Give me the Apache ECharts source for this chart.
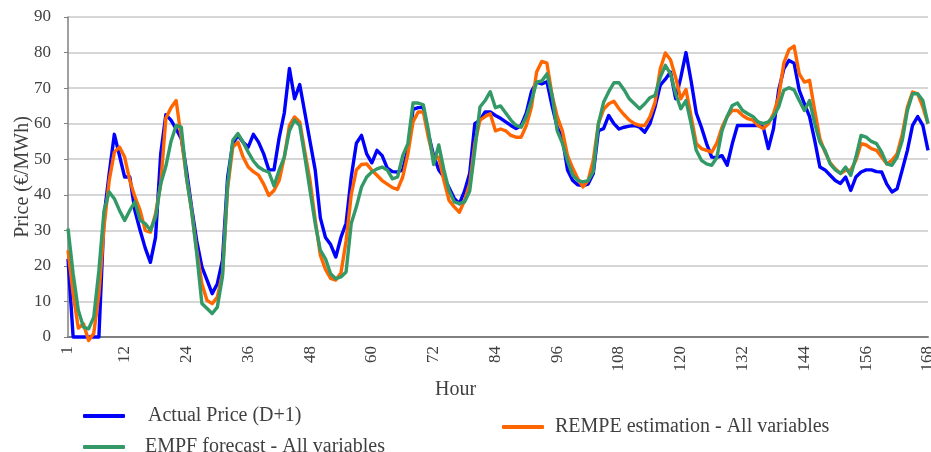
<!DOCTYPE html>
<html>
<head>
<meta charset="utf-8">
<title>Price forecast</title>
<script src="https://cdn.jsdelivr.net/npm/echarts@6.0.0/dist/echarts.min.js"></script>
<style>
  html, body { margin: 0; padding: 0; background: #fff; }
  #chart { width: 931px; height: 452px; }
</style>
</head>
<body>
<div id="chart"></div>
<script>
// hours 1..168 on the category axis
const hours = Array.from({ length: 168 }, (_, i) => String(i + 1))
// labels that are shown under the axis
const xTickLabels = ['1', '12', '24', '36', '48', '60', '72', '84', '96', '108', '120', '132', '144', '156', '168']

// Actual Price (D+1)
const actualPrice = [
  22, 0, 0, 0, 0, 0, 0, 34, 46, 57, 51, 45,
  45, 35.5, 30, 25, 21, 28, 51.5, 62.5, 61, 58.5, 55.8, 47,
  36.5, 27, 19.7, 16, 12.2, 15, 21.6, 45, 54.4, 56.7, 54.8, 53.4,
  57, 54.8, 51.5, 47, 47, 56, 63, 75.5, 67, 71, 63, 55,
  47, 33.5, 28, 26, 22.5, 28, 32, 45, 54.5, 56.7, 51.5, 49,
  52.5, 51, 47.5, 46.5, 46.4, 47, 53, 64, 64.5, 64.5, 57, 51,
  47, 45, 42, 39, 37.5, 41, 46, 60, 61, 63.3, 63.3, 62.3,
  61.5, 60.5, 59.5, 58.6, 59.5, 63, 69, 71.7, 71.2, 71.8, 65, 59,
  56, 47, 44, 42.8, 42.6, 43, 46, 58, 58.6, 62.3, 60, 58.5,
  59, 59.3, 59.5, 59, 57.6, 60, 64.7, 70.8, 72.5, 74.5, 67, 73,
  80, 72, 63, 59, 54.4, 50.6, 50.5, 51, 48.3, 54.4, 59.5, 59.5,
  59.5, 59.5, 59.5, 59, 53, 58.6, 69.4, 75.4, 77.8, 77, 69.4, 65.6,
  62, 55.3, 47.8, 47, 45.5, 44, 43.2, 45, 41.2, 45, 46.4, 47,
  47, 46.5, 46.4, 43, 40.8, 41.7, 47, 52.5, 59.5, 62, 59.5, 52.5,
]

// EMPF forecast - All variables
const empfForecast = [
  30.5, 17.8, 7.5, 2.8, 2.3, 5.6, 18.7, 35.6, 40.8, 38.9, 35.6, 32.8,
  35.6, 38, 32.8, 31.9, 30, 33.7, 43, 48, 55, 59.5, 59, 45,
  35.6, 23.4, 9.4, 8, 6.6, 8.4, 17, 43, 55.3, 57.2, 54.8, 52,
  49.5, 47.8, 46.9, 46.4, 42.5, 46.9, 50.6, 58, 61, 59.5, 50.6, 41.2,
  31.9, 24.4, 22, 17.8, 16.4, 16.9, 18.3, 31.9, 36.6, 42.2, 45, 46.4,
  47.3, 47.8, 47, 44.5, 45, 51, 54.4, 65.8, 65.8, 65.3, 58, 48.5,
  54, 47, 41.2, 38, 37.5, 38, 41, 52.5, 64.7, 66.5, 69, 64.5,
  65, 63, 61, 59.5, 59, 62, 66.5, 71.7, 72, 74, 68, 58,
  54.5, 49.5, 45.5, 44, 43.6, 44, 46.5, 60, 66, 69, 71.5, 71.5,
  69.5, 67, 65.6, 64.2, 65.6, 67.3, 68, 73, 76.4, 74, 68.4, 64.2,
  66.5, 60, 52.5, 49.7, 48.7, 48.3, 50.5, 58, 62, 65.1, 65.8, 63.7,
  62.8, 62, 60.5, 60, 60.5, 62, 64.7, 69.4, 70.1, 69.5, 66.5, 63.7,
  66.5, 60, 54.8, 52.5, 48.7, 47, 46, 47.8, 45.5, 50.6, 56.7, 56.2,
  55, 54.4, 52, 48.7, 48.3, 50.6, 55.3, 63.7, 68.4, 68.4, 66.5, 60,
]

// REMPE estimation - All variables
const rempeEstimation = [
  24.4, 12, 2.5, 3.7, -1, 1, 12, 31, 44, 52, 53.4, 50.6,
  44, 39.4, 35.6, 30, 29.5, 34.7, 43, 61.5, 64.5, 66.5, 56, 45,
  35.6, 24.4, 15, 10.3, 9.4, 11.2, 17.8, 42, 53.4, 54.8, 50.6, 47.8,
  46.5, 45.5, 43, 39.8, 41.2, 44, 50.6, 59.5, 61.9, 60.5, 52, 44,
  33, 23, 19, 16.5, 16, 18, 27, 40, 47, 48.5, 48.7, 46.9,
  45.5, 44, 43, 42, 41.5, 45, 51.5, 60.5, 63.3, 63.3, 56, 50,
  50.6, 44, 38.4, 36.6, 35.1, 38.4, 43, 54.4, 61, 62, 62.8, 58,
  58.5, 58, 56.7, 56.2, 56.2, 59.5, 64.7, 74.5, 77.5, 77, 68, 62,
  58, 51, 47.5, 44.5, 42.2, 44, 49.7, 60, 64, 65.6, 66.3, 64.2,
  62.5, 61, 60, 59.5, 59.5, 61.9, 66, 75.4, 79.9, 78, 73, 67,
  69.6, 62, 54.4, 53, 52.5, 52, 54.5, 59, 62, 63.7, 63.7, 62.3,
  61.4, 61, 59.5, 58.6, 60, 62.8, 67.5, 77, 80.8, 81.8, 74, 71.7,
  72.2, 63.7, 55.8, 52, 49, 47.3, 46, 46.9, 46.9, 49.7, 54.4, 54,
  53, 52.5, 50.6, 48.7, 49.7, 51.5, 57, 64.7, 68.9, 68.4, 64.7, 60,
]

const FONT = 'Liberation Serif'
const TEXT_COLOR = '#404040'

const chart = echarts.init(document.getElementById('chart'))

// one legend box per entry, the reference places them freely
function legendBox(name, left, top, gap) {
  return {
    data: [name],
    left: left,
    top: top,
    padding: 0,
    icon: 'roundRect',
    itemWidth: 42,
    itemHeight: 4,
    selectedMode: false,
    textStyle: {
      fontFamily: FONT,
      fontSize: 20,
      color: TEXT_COLOR,
      padding: [0, 0, 0, gap],
    },
  }
}

function lineSeries(name, data, color, z) {
  return {
    name: name,
    type: 'line',
    data: data,
    z: z,
    clip: false,
    showSymbol: false,
    symbol: 'none',
    lineStyle: { color: color, width: 3.4, join: 'round' },
    itemStyle: { color: color },
    emphasis: { disabled: true },
  }
}

const options = {
  animation: false,
  backgroundColor: '#fff',
  grid: {
    left: 68,
    right: 3,
    top: 17,
    bottom: 115,
    containLabel: false,
    outerBoundsMode: 'none',
  },
  legend: [
    legendBox('Actual Price (D+1)', 83, 406, 18),
    legendBox('EMPF forecast - All variables', 83, 437, 15),
    legendBox('REMPE estimation - All variables', 502, 417, 6),
  ],
  xAxis: {
    type: 'category',
    data: hours,
    boundaryGap: false,
    axisTick: { show: false },
    axisLine: { show: true, lineStyle: { color: '#808080', width: 2 } },
    splitLine: { show: false },
    axisLabel: {
      show: true,
      rotate: 90,
      margin: 9,
      fontFamily: FONT,
      fontSize: 17,
      color: TEXT_COLOR,
      interval: (index, value) => xTickLabels.indexOf(value) !== -1,
    },
  },
  yAxis: {
    type: 'value',
    min: 0,
    max: 90,
    interval: 10,
    name: 'Price (€/MWh)',
    nameLocation: 'middle',
    nameGap: 35,
    nameMoveOverlap: false,
    nameTextStyle: { fontFamily: FONT, fontSize: 20, color: TEXT_COLOR },
    axisLine: { show: true, lineStyle: { color: '#808080', width: 1.5 } },
    axisTick: { show: true, length: 4, lineStyle: { color: '#808080' } },
    splitLine: { show: true, lineStyle: { color: '#c8c8c8', width: 1.5 } },
    axisLabel: {
      margin: 17,
      fontFamily: FONT,
      fontSize: 17,
      color: TEXT_COLOR,
    },
  },
  graphic: [
    {
      type: 'text',
      left: 435,
      top: 380,
      style: { text: 'Hour', fontFamily: FONT, fontSize: 20, fill: TEXT_COLOR },
    },
  ],
  series: [
    lineSeries('Actual Price (D+1)', actualPrice, '#0000ff', 2),
    lineSeries('REMPE estimation - All variables', rempeEstimation, '#ff6600', 3),
    lineSeries('EMPF forecast - All variables', empfForecast, '#339966', 4),
  ],
}

chart.setOption(options)
</script>
</body>
</html>
